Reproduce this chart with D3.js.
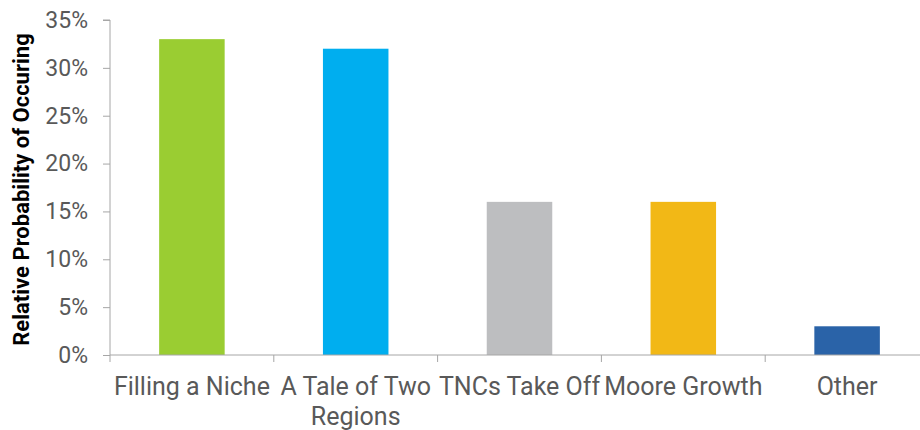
<!DOCTYPE html>
<html>
<head>
<meta charset="utf-8">
<script src="https://cdn.jsdelivr.net/npm/d3@7"></script>
<style>
  body { margin: 0; background: #fff; }
  text { font-family: Roboto, "Liberation Sans", sans-serif; }
</style>
</head>
<body>
<div id="chart"></div>
<script>
// data
const categories = ["Filling a Niche", "A Tale of Two Regions", "TNCs Take Off", "Moore Growth", "Other"];
const values = [0.33, 0.32, 0.16, 0.16, 0.03];
const colors = ["#9acd32", "#00aeef", "#bdbec0", "#f2b816", "#2a63a8"];
const yTicks = [0, 0.05, 0.10, 0.15, 0.20, 0.25, 0.30, 0.35];

const width = 920, height = 430;
const margin = { top: 20, left: 110, bottom: 75 };
const plotRight = 929; // last category runs off the edge

const svg = d3.select("#chart").append("svg")
  .attr("width", width)
  .attr("height", height);

const x = d3.scaleBand()
  .domain(categories)
  .range([margin.left, plotRight]);

const y = d3.scaleLinear()
  .domain([0, 0.35])
  .range([height - margin.bottom, margin.top]);

const axisColor = "#a6a6a6";

// bars
const barW = x.step() * 0.4;
svg.selectAll("rect.bar")
  .data(categories)
  .join("rect")
  .attr("class", "bar")
  .attr("x", (d) => x(d) + (x.step() - barW) / 2)
  .attr("width", barW)
  .attr("y", (d, i) => y(values[i]))
  .attr("height", (d, i) => y(0) - y(values[i]))
  .attr("fill", (d, i) => colors[i]);

// y axis
const yAxis = svg.append("g")
  .attr("transform", `translate(${margin.left},0)`)
  .call(d3.axisLeft(y).tickValues(yTicks).tickFormat(d3.format(".0%")).tickSize(7).tickPadding(15));
yAxis.select(".domain").attr("stroke", axisColor).attr("d", `M-7,${y(0.35)}H0V${y(0)}`);
yAxis.selectAll(".tick line").attr("stroke", axisColor);
yAxis.selectAll(".tick text")
  .attr("fill", "#595959")
  .style("font-size", "23px");

// x axis: ticks sit on the category boundaries
const xAxis = svg.append("g").attr("transform", `translate(0,${y(0)})`);
xAxis.append("line")
  .attr("x1", margin.left).attr("x2", plotRight)
  .attr("stroke", axisColor);
xAxis.selectAll("line.sep")
  .data(categories)
  .join("line")
  .attr("class", "sep")
  .attr("x1", (d) => x(d)).attr("x2", (d) => x(d))
  .attr("y1", 0).attr("y2", 7)
  .attr("stroke", axisColor);

const labels = xAxis.selectAll("text.cat")
  .data(categories)
  .join("text")
  .attr("class", "cat")
  .attr("text-anchor", "middle")
  .attr("fill", "#595959")
  .style("font-size", "25px")
  .attr("y", 40)
  .text((d) => d);

// wrap long labels onto a second line
labels.each(function (d) {
  const t = d3.select(this);
  const cx = x(d) + x.step() / 2;
  const words = d.split(" ");
  t.text(null);
  let line = [];
  let tspan = t.append("tspan").attr("x", cx);
  words.forEach((w) => {
    line.push(w);
    tspan.text(line.join(" "));
    if (tspan.node().getComputedTextLength() > x.step() && line.length > 1) {
      line.pop();
      tspan.text(line.join(" "));
      line = [w];
      tspan = t.append("tspan").attr("x", cx).attr("dy", "1.2em").text(w);
    }
  });
});

// y axis title
svg.append("text")
  .attr("transform", `translate(29,${(y(0) + y(0.35)) / 2 + 2}) rotate(-90)`)
  .attr("text-anchor", "middle")
  .attr("fill", "#000")
  .style("font-size", "22px")
  .style("font-weight", "bold")
  .text("Relative Probability of Occuring");
</script>
</body>
</html>
